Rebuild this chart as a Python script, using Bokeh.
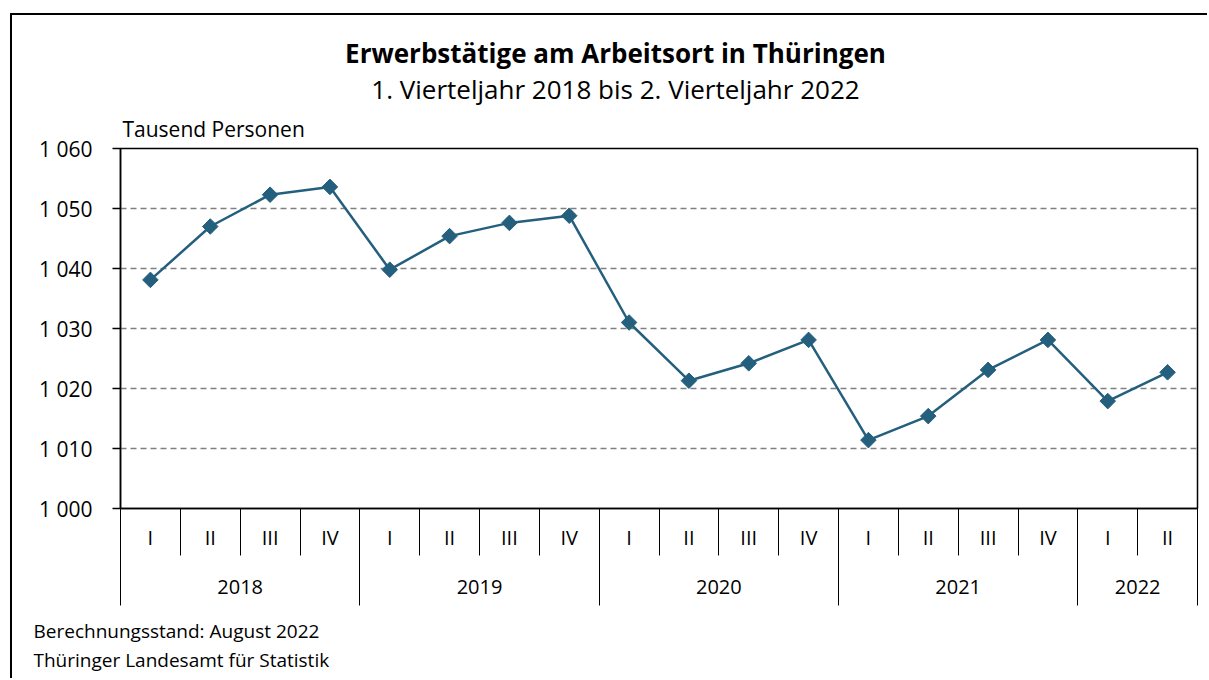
import numpy as np
from bokeh.plotting import figure
from bokeh.models import (FixedTicker, LinearAxis, Label, Range1d, Grid)
from bokeh.embed import file_html
from bokeh.resources import INLINE

# ---- data ----
years = ["2018", "2019", "2020", "2021", "2022"]
quarters_per_year = [4, 4, 4, 4, 2]
quarter_labels = ["I", "II", "III", "IV"] * 4 + ["I", "II"]
values = [1038.1, 1047.0, 1052.3, 1053.6,
          1039.8, 1045.4, 1047.6, 1048.8,
          1031.0, 1021.3, 1024.2, 1028.1,
          1011.4, 1015.4, 1023.1, 1028.1,
          1017.9, 1022.7]
y_ticks = [1000, 1010, 1020, 1030, 1040, 1050, 1060]
y_tick_labels = ["1 000", "1 010", "1 020", "1 030", "1 040", "1 050", "1 060"]

title = "Erwerbstätige am Arbeitsort in Thüringen"
subtitle = "1. Vierteljahr 2018 bis 2. Vierteljahr 2022"
unit = "Tausend Personen"
footer1 = "Berechnungsstand: August 2022"
footer2 = "Thüringer Landesamt für Statistik"

FONT = "Open Sans"
LH = 1.362  # font ascent+descent (em) used by the side-panel stacking
LINE_COLOR = "#245f7d"

n = len(values)
x_pos = np.arange(n) + 0.5
bounds = list(range(n + 1))
year_bounds = [0] + [int(v) for v in np.cumsum(quarters_per_year)]
year_centers = [(year_bounds[i] + year_bounds[i + 1]) / 2 for i in range(len(years))]

# page layout (page pixels); the canvas is offset by a margin so that a
# shadow on its left/top edge forms the outer frame of the graphic
PAGE_W, PAGE_H = 1209, 680
OX, OY = 12, 15
W, H = PAGE_W - OX, PAGE_H - OY
FL, FR, FT, FB = 120 - OX, 1197 - OX, 148 - OY, 508 - OY

p = figure(width=W, height=H, output_backend="svg", toolbar_location=None,
           x_range=Range1d(0, n), y_range=Range1d(y_ticks[0], y_ticks[-1]),
           x_axis_location=None, y_axis_location=None,
           min_border_left=FL, min_border_right=W - FR,
           min_border_top=FT, min_border_bottom=H - FB,
           margin=(OY, 0, 0, OX),
           styles={"box-shadow": "-2px -2px 0px 0px #000000"})
p.background_fill_color = "white"
p.border_fill_color = "white"
p.outline_line_color = "black"
p.outline_line_width = 1.5
p.xgrid.visible = False
p.ygrid.visible = False

# y axis
yax = LinearAxis(ticker=FixedTicker(ticks=y_ticks))
yax.major_label_overrides = {t: l for t, l in zip(y_ticks, y_tick_labels)}
yax.major_tick_out = 8
yax.major_tick_in = 0
yax.minor_tick_line_color = None
yax.major_tick_line_color = "black"
yax.major_tick_line_width = 1.5
yax.axis_line_color = "black"
yax.axis_line_width = 1.5
yax.major_label_standoff = 20
yax.major_label_text_font = FONT
yax.major_label_text_font_size = "21px"
yax.major_label_text_color = "black"
p.add_layout(yax, "left")

g = Grid(dimension=1, ticker=FixedTicker(ticks=y_ticks[1:-1]),
         grid_line_color="#808080", grid_line_width=1.3, grid_line_dash="6 4")
p.add_layout(g)

# quarter axis
Q_FS, Q_OUT, Q_SO = 20, 47, -32
qax = LinearAxis(ticker=FixedTicker(ticks=list(x_pos), minor_ticks=bounds))
qax.major_label_overrides = {float(x): l for x, l in zip(x_pos, quarter_labels)}
qax.major_tick_line_color = None
qax.major_tick_out = 0
qax.major_tick_in = 0
qax.minor_tick_line_color = "black"
qax.minor_tick_line_width = 1
qax.minor_tick_out = Q_OUT
qax.minor_tick_in = 0
qax.axis_line_color = "black"
qax.axis_line_width = 1.5
qax.major_label_standoff = Q_SO
qax.major_label_text_font = FONT
qax.major_label_text_font_size = f"{Q_FS}px"
qax.major_label_text_color = "black"
p.add_layout(qax, "below")

# year axis
Y_FS, Y_OUT, Y_SO = 20, 52, -26
yrax = LinearAxis(ticker=FixedTicker(ticks=year_centers, minor_ticks=year_bounds))
yrax.major_label_overrides = {float(x): l for x, l in zip(year_centers, years)}
yrax.major_tick_line_color = None
yrax.major_tick_out = 0
yrax.major_tick_in = 0
yrax.minor_tick_line_color = "black"
yrax.minor_tick_line_width = 1
yrax.minor_tick_out = Y_OUT
yrax.minor_tick_in = 8
yrax.axis_line_color = None
yrax.major_label_standoff = Y_SO
yrax.major_label_text_font = FONT
yrax.major_label_text_font_size = f"{Y_FS}px"
yrax.major_label_text_color = "black"
p.add_layout(yrax, "below")

# data
p.line(x_pos, values, line_color=LINE_COLOR, line_width=2.5)
p.scatter(x_pos, values, marker="square", angle=np.pi / 4, size=11,
          fill_color=LINE_COLOR, line_color=LINE_COLOR)

# texts in side panels; labels are stacked outward from the frame
top_stack = {"b": FT}
def lab_above(text, page_cx, page_cy, size, bold=False, align="left"):
    b = top_stack["b"]
    p.add_layout(Label(x=page_cx - OX - FL, y=b - (page_cy - OY), x_units="screen", y_units="screen",
                       text=text, text_font=FONT, text_font_size=f"{size}px",
                       text_font_style="bold" if bold else "normal",
                       text_align=align, text_baseline="middle", text_color="black"),
                 "above")
    top_stack["b"] = b - LH * size

ext_a = Q_OUT + Q_SO + LH * Q_FS
ext_b = Y_OUT + Y_SO + LH * Y_FS
bot_stack = {"t": FB + ext_a + ext_b - 6}
def lab_below(text, page_cx, page_cy, size):
    t = bot_stack["t"]
    h = LH * size
    p.add_layout(Label(x=page_cx - OX - FL, y=t + h - (page_cy - OY), x_units="screen", y_units="screen",
                       text=text, text_font=FONT, text_font_size=f"{size}px",
                       text_align="left", text_baseline="middle", text_color="black"),
                 "below")
    bot_stack["t"] = t + h

lab_above(title, 615, 52, 26, bold=True, align="center")
lab_above(subtitle, 615, 89, 26, align="center")
lab_above(unit, 122, 130, 21)
lab_below(footer1, 33, 632, 19)
lab_below(footer2, 33, 661, 19)

open("out.html", "w").write(file_html(p, INLINE))
